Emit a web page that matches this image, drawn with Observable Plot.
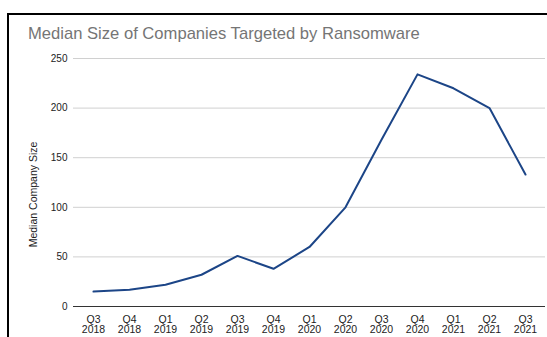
<!DOCTYPE html>
<html>
<head>
<meta charset="utf-8">
<script src="https://cdn.jsdelivr.net/npm/d3@7"></script>
<script src="https://cdn.jsdelivr.net/npm/@observablehq/plot@0.6"></script>
<style>
  html, body { margin: 0; padding: 0; background: #fff; overflow: hidden; }
  #wrap { position: relative; width: 547px; height: 337px; overflow: hidden; font-family: "Liberation Sans", Arial, sans-serif; }
  #frame { position: absolute; left: 7px; top: 13px; width: 600px; height: 400px; border: 2px solid #000; box-sizing: border-box; pointer-events: none; }
  #title { position: absolute; left: 28px; top: 24px; font-size: 16.6px; color: #757575; white-space: nowrap; }
  #chart { position: absolute; left: 0; top: 0; }
</style>
</head>
<body>
<div id="wrap">
  <div id="chart"></div>
  <div id="frame"></div>
  <div id="title">Median Size of Companies Targeted by Ransomware</div>
</div>
<script>
const quarters = ["Q3", "Q4", "Q1", "Q2", "Q3", "Q4", "Q1", "Q2", "Q3", "Q4", "Q1", "Q2", "Q3"];
const years = ["2018", "2018", "2019", "2019", "2019", "2019", "2020", "2020", "2020", "2020", "2021", "2021", "2021"];
const medianSize = [15, 17, 22, 32, 51, 38, 60, 100, 168, 234, 220, 200, 133];
const yTicks = [0, 50, 100, 150, 200, 250];
const yLabel = "Median Company Size";

const labels = quarters.map((q, i) => `${q} ${years[i]}`);
const data = labels.map((l, i) => ({ period: l, value: medianSize[i] }));

const chart = Plot.plot({
  width: 547,
  height: 337,
  marginLeft: 73,
  marginRight: 2,
  marginTop: 58,
  marginBottom: 31,
  style: { background: "transparent", fontFamily: "'Liberation Sans', Arial, sans-serif", fontSize: "10px", color: "#222" },
  x: { type: "point", domain: labels, padding: 0.5, label: null },
  y: { domain: [0, 250], label: null },
  marks: [
    Plot.ruleY(yTicks.filter(d => d > 0), { stroke: "#d0d0d0", strokeWidth: 1 }),
    Plot.ruleY([0], { stroke: "#333", strokeWidth: 1 }),
    Plot.axisY({ ticks: yTicks, tickSize: 0, tickPadding: 6, label: null, fontSize: 10 }),
    Plot.axisX({ tickSize: 0, tickPadding: 9, label: null, fontSize: 10.5, tickFormat: d => d.replace(" ", "\n"), lineHeight: 1.0 }),
    Plot.text([yLabel], { frameAnchor: "left", textAnchor: "middle", dx: -40, dy: 12, rotate: -90, fontSize: 10.5, fill: "#222" }),
    Plot.line(data, { x: "period", y: "value", stroke: "#1c4587", strokeWidth: 2, strokeLinejoin: "round" })
  ]
});
document.getElementById("chart").appendChild(chart);
</script>
</body>
</html>
